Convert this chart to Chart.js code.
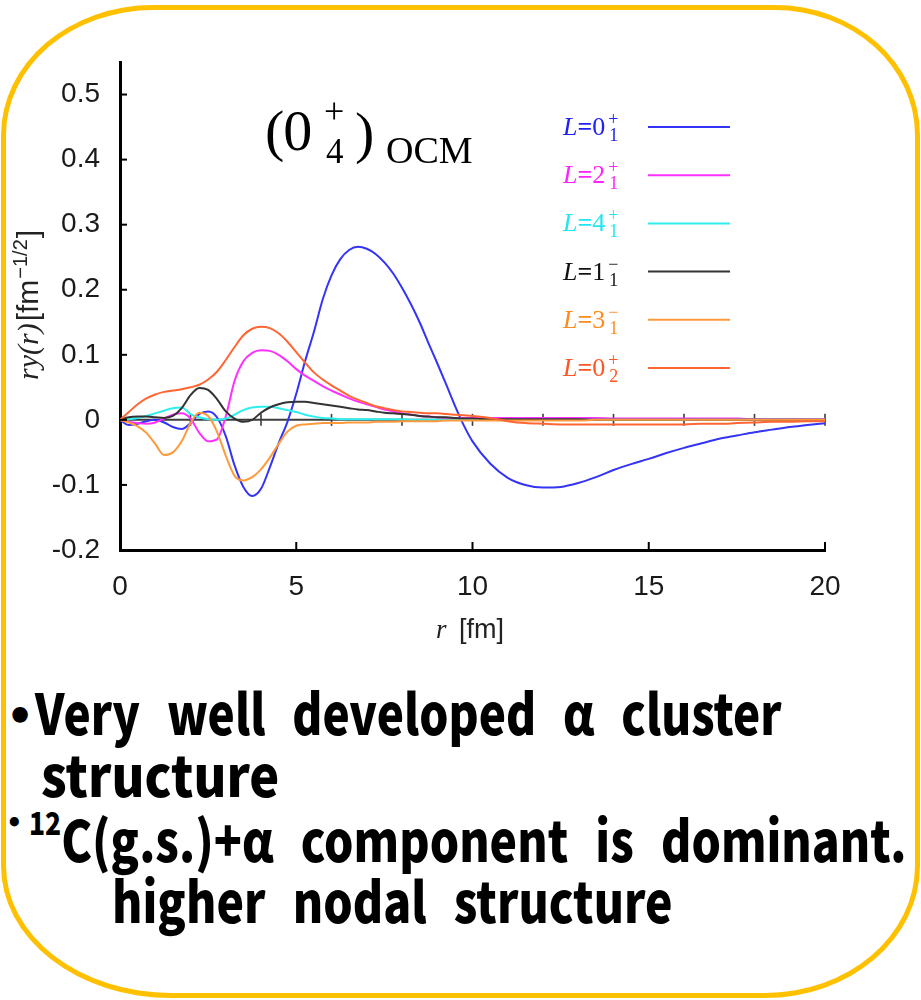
<!DOCTYPE html>
<html lang="en">
<head>
<meta charset="utf-8">
<title>Reduced width amplitudes (0_4^+)_OCM</title>
<script src="https://cdn.jsdelivr.net/npm/chart.js@4.4.1/dist/chart.umd.min.js"></script>
<style>
  html, body { margin: 0; padding: 0; background: #fff; }
  body { position: relative; width: 921px; height: 1000px; overflow: hidden; }
  #frame {
    position: absolute; left: 1px; top: 5px; width: 909px; height: 983px;
    border: 5px solid #ffc000;
    border-radius: 152px 145px 155px 170px / 130px 130px 132px 132px;
  }
  #plot { position: absolute; left: 0; top: 0; }
  .note {
    position: absolute; left: 0; top: 0; white-space: nowrap; color: #000;
    font-family: "Noto Sans CJK JP", "Noto Sans", sans-serif; font-weight: 900;
    font-size: 56px; line-height: 1; word-spacing: 20px; transform-origin: 0 0;
  }
  .note .bl { display: inline-block; width: 0; height: 0; vertical-align: baseline; }
  .note .iso { font-size: 32px; position: relative; top: -27px; word-spacing: 0; }
  .note.dot { font-family: "DejaVu Sans", sans-serif; font-weight: bold; word-spacing: 0; }
</style>
</head>
<body>
<div id="frame"></div>
<canvas id="plot" width="921" height="660"></canvas>

<div class="note dot" style="font-size:44px" data-left="6" data-base="731">•<span class="bl"></span></div>
<div class="note" data-left="35" data-right="782" data-base="735">Very well developed α cluster<span class="bl"></span></div>
<div class="note" data-left="41" data-right="279" data-base="797">structure<span class="bl"></span></div>
<div class="note dot" style="font-size:26px" data-left="6" data-base="832">•<span class="bl"></span></div>
<div class="note" data-left="29" data-right="906" data-base="862"><span class="iso">12</span>C(g.s.)+α component is dominant.<span class="bl"></span></div>
<div class="note" data-left="112" data-right="673" data-base="923">higher nodal structure<span class="bl"></span></div>

<script>
// Radial grid r [fm]: fine step inside the interaction region, coarser outside.
const radius = [0, 0.25, 0.5, 0.75, 1, 1.25, 1.5, 1.75, 2, 2.25, 2.5, 2.75, 3, 3.25, 3.5, 3.75,
  4, 4.25, 4.5, 4.75, 5, 5.25, 5.5, 5.75, 6, 6.25, 6.5, 6.75, 7, 7.25, 7.5, 7.75,
  8, 8.25, 8.5, 8.75, 9, 9.25, 9.5, 9.75, 10,
  10.5, 11, 11.5, 12, 12.5, 13, 13.5, 14, 14.5, 15, 15.5, 16, 16.5, 17, 17.5, 18, 18.5, 19, 19.5, 20];

// r*y(r) [fm^-1/2] for each 12C(L) + alpha channel
const ampL0p1 = [0, -0.008, -0.006, -0.002, 0.000, -0.004, -0.011, -0.014, -0.005, 0.009, 0.013, 0.004, -0.025, -0.07, -0.103, -0.117,
  -0.106, -0.073, -0.036, -0.003, 0.04, 0.09, 0.135, 0.185, 0.222, 0.247, 0.261, 0.266, 0.263, 0.255, 0.242, 0.225,
  0.203, 0.178, 0.15, 0.118, 0.087, 0.055, 0.022, -0.008, -0.033,
  -0.067, -0.089, -0.1, -0.104, -0.103, -0.097, -0.088, -0.077, -0.068, -0.06, -0.051, -0.043, -0.036, -0.029, -0.024, -0.019, -0.015, -0.011, -0.008, -0.005];
const ampL2p1 = [0, -0.003, -0.005, -0.006, -0.004, 0.002, 0.008, 0.01, 0.002, -0.02, -0.033, -0.03, 0.005, 0.06, 0.09, 0.103,
  0.107, 0.106, 0.1, 0.09, 0.078, 0.068, 0.06, 0.052, 0.045, 0.039, 0.033, 0.028, 0.024, 0.02, 0.016, 0.013,
  0.01, 0.008, 0.006, 0.005, 0.004, 0.003, 0.003, 0.003, 0.003,
  0.003, 0.003, 0.003, 0.003, 0.003, 0.003, 0.003, 0.002, 0.002, 0.002, 0.002, 0.002, 0.002, 0.002, 0.002, 0.001, 0.001, 0.001, 0.001, 0.001];
const ampL4p1 = [0, 0.001, 0.003, 0.006, 0.01, 0.014, 0.018, 0.019, 0.009, 0.004, 0.001, 0.0, 0.002, 0.008, 0.015, 0.019,
  0.02, 0.02, 0.018, 0.015, 0.012, 0.008, 0.005, 0.003, 0.002, 0.001, 0.001, 0.001, 0.001, 0.001, 0.001, 0.001,
  0.001, 0, 0, 0, 0, 0, 0, 0, 0,
  0, 0, 0, 0, 0, 0, 0, 0, 0, 0, 0, 0, 0, 0, 0, 0, 0, 0, 0, 0];
const ampL1m1 = [0, 0.004, 0.005, 0.005, 0.004, 0.003, 0.006, 0.018, 0.038, 0.049, 0.046, 0.032, 0.013, 0.002, -0.003, 0.0,
  0.011, 0.019, 0.024, 0.027, 0.028, 0.028, 0.026, 0.024, 0.022, 0.02, 0.018, 0.016, 0.015, 0.013, 0.011, 0.01,
  0.009, 0.008, 0.006, 0.005, 0.004, 0.004, 0.003, 0.002, 0.002,
  0.001, 0.001, 0.001, 0.001, 0.001, 0.001, 0, 0, 0, 0, 0, 0, 0, 0, 0, 0, 0, 0, 0, 0];
const ampL3m1 = [0, -0.004, -0.01, -0.02, -0.037, -0.054, -0.05, -0.033, -0.005, 0.011, 0.006, -0.018, -0.055, -0.086, -0.093, -0.088,
  -0.076, -0.058, -0.037, -0.018, -0.009, -0.007, -0.006, -0.005, -0.005, -0.005, -0.004, -0.004, -0.004, -0.003, -0.003, -0.003,
  -0.002, -0.002, -0.002, -0.002, -0.002, -0.001, -0.001, -0.001, -0.001,
  -0.001, -0.001, -0.001, -0.001, -0.001, -0.001, 0, 0, 0, 0, 0, 0, 0, 0, 0, 0, 0, 0, 0, 0];
const ampL0p2 = [0, 0.012, 0.024, 0.033, 0.039, 0.043, 0.045, 0.047, 0.05, 0.054, 0.062, 0.074, 0.092, 0.112, 0.13, 0.14,
  0.143, 0.141, 0.133, 0.12, 0.104, 0.088, 0.073, 0.062, 0.053, 0.045, 0.037, 0.031, 0.026, 0.021, 0.018, 0.015,
  0.013, 0.012, 0.011, 0.01, 0.01, 0.009, 0.008, 0.007, 0.006,
  0.003, -0.002, -0.005, -0.006, -0.007, -0.007, -0.007, -0.007, -0.007, -0.007, -0.007, -0.007, -0.006, -0.006, -0.005, -0.004, -0.003, -0.003, -0.002, -0.002];

// Channel labels L = spin^parity_index
const channelSpin = ['0', '2', '4', '1', '3', '0'];
const channelParity = ['+', '+', '+', '\u2212', '\u2212', '+'];
const channelIndex = ['1', '1', '1', '1', '1', '2'];
const channelColors = ['#3434f6', '#ff30ff', '#2eeeee', '#333333', '#ff9a3c', '#ff6633'];
const channelTextColors = ['#2020f0', '#ff22ff', '#22e6f0', '#111111', '#ff8a1e', '#ff5522'];

// Axis ranges and tick labels
const xRange = [0, 20];
const yRange = [-0.2, 0.55];
const xTicks = [0, 5, 10, 15, 20];
const yTicks = [-0.2, -0.1, 0, 0.1, 0.2, 0.3, 0.4, 0.5];
const zeroAxisTicks = [2, 4, 6, 8, 10, 12, 14, 16, 18, 20];

const SERIF = '"Liberation Serif", "Times New Roman", serif';
const SANS = '"Liberation Sans", Arial, sans-serif';

const series = [ampL0p1, ampL2p1, ampL4p1, ampL1m1, ampL3m1, ampL0p2];

function put(ctx, font, text, x, y) {
  ctx.font = font;
  ctx.fillText(text, x, y);
  return x + ctx.measureText(text).width;
}

const decorations = {
  id: 'decorations',
  beforeDatasetsDraw(chart) {
    const { ctx, scales: { x, y } } = chart;
    const y0 = y.getPixelForValue(0);
    ctx.save();
    ctx.strokeStyle = '#3c3c3c';
    ctx.lineWidth = 2;
    ctx.beginPath();
    ctx.moveTo(x.getPixelForValue(xRange[0]), y0);
    ctx.lineTo(x.getPixelForValue(xRange[1]), y0);
    ctx.stroke();
    ctx.lineWidth = 1.6;
    zeroAxisTicks.forEach(v => {
      const px = x.getPixelForValue(v);
      ctx.beginPath();
      ctx.moveTo(px, y0 - 6);
      ctx.lineTo(px, y0 + 6);
      ctx.stroke();
    });
    ctx.restore();
  },
  afterDraw(chart) {
    const { ctx, chartArea: a, scales: { x, y } } = chart;
    ctx.save();

    // inward tick marks
    ctx.strokeStyle = '#000';
    ctx.lineWidth = 2;
    y.ticks.forEach(t => {
      if (t.value === yRange[0]) return;
      const py = y.getPixelForValue(t.value);
      ctx.beginPath(); ctx.moveTo(a.left, py); ctx.lineTo(a.left + 7, py); ctx.stroke();
    });
    x.ticks.forEach(t => {
      if (t.value === xRange[0]) return;
      const px = x.getPixelForValue(t.value);
      ctx.beginPath(); ctx.moveTo(px, a.bottom); ctx.lineTo(px, a.bottom - 8); ctx.stroke();
    });

    // key: label on the left, line sample on the right
    ctx.textBaseline = 'alphabetic';
    ctx.textAlign = 'left';
    chart.data.datasets.forEach((ds, i) => {
      const rowY = a.top + 65 + i * 48.2;
      const base = rowY + 8;
      ctx.fillStyle = channelTextColors[i];
      let px = put(ctx, `italic 26px ${SERIF}`, 'L', a.left + 443, base);
      px = put(ctx, `bold 26px ${SERIF}`, '=', px, base);
      px = put(ctx, `26px ${SERIF}`, channelSpin[i], px, base);
      ctx.font = `18px ${SERIF}`;
      ctx.fillText(channelParity[i], px + 3, base - 10);
      ctx.fillText(channelIndex[i], px + 4, base + 6);
      ctx.strokeStyle = ds.borderColor;
      ctx.lineWidth = 2;
      ctx.beginPath();
      ctx.moveTo(a.left + 528, rowY);
      ctx.lineTo(a.left + 610, rowY);
      ctx.stroke();
    });

    // state label
    ctx.fillStyle = '#000';
    let tx = put(ctx, `58px ${SERIF}`, '(', a.left + 145, a.top + 88);
    put(ctx, `58px ${SERIF}`, '0', tx - 1, a.top + 88);
    put(ctx, `36px ${SERIF}`, '+', a.left + 204, a.top + 61);
    put(ctx, `35px ${SERIF}`, '4', a.left + 206, a.top + 101);
    put(ctx, `58px ${SERIF}`, ')', a.left + 235, a.top + 90);
    put(ctx, `38px ${SERIF}`, 'OCM', a.left + 266, a.top + 101);

    // axis titles
    ctx.fillStyle = '#222';
    put(ctx, `italic 27px ${SERIF}`, 'r', a.left + 316, a.bottom + 88);
    put(ctx, `27px ${SANS}`, '[fm]', a.left + 339, a.bottom + 88);

    ctx.translate(a.left - 82, a.top + 318);
    ctx.rotate(-Math.PI / 2);
    let ty = put(ctx, `italic 30px ${SERIF}`, 'ry(r)', 0, 0);
    ty = put(ctx, `30px ${SANS}`, '[fm', ty + 2, 0);
    ty = put(ctx, `20px ${SANS}`, '\u22121/2', ty + 1, -11);
    put(ctx, `30px ${SANS}`, ']', ty + 1, 0);

    ctx.restore();
  }
};

new Chart(document.getElementById('plot'), {
  type: 'line',
  data: {
    datasets: series.map((vals, i) => ({
      label: `L=${channelSpin[i]}${channelParity[i]}${channelIndex[i]}`,
      data: radius.map((r, k) => ({ x: r, y: vals[k] })),
      borderColor: channelColors[i],
      borderWidth: 2,
      pointRadius: 0,
      fill: false,
      cubicInterpolationMode: 'monotone',
      order: series.length - 1 - i
    }))
  },
  options: {
    responsive: false,
    animation: false,
    events: [],
    layout: { padding: { left: 0, top: 62, right: 96, bottom: 0 } },
    plugins: { legend: { display: false }, tooltip: { enabled: false } },
    scales: {
      x: {
        type: 'linear', min: xRange[0], max: xRange[1],
        afterBuildTicks: s => { s.ticks = xTicks.map(v => ({ value: v })); },
        afterFit: s => { s.height = 110; },
        grid: { display: false, drawTicks: false },
        border: { display: true, color: '#000', width: 3 },
        ticks: { padding: 20, color: '#1a1a1a', font: { family: SANS, size: 28 }, maxRotation: 0, autoSkip: false,
                 callback: v => String(v) }
      },
      y: {
        type: 'linear', min: yRange[0], max: yRange[1],
        afterBuildTicks: s => { s.ticks = yTicks.map(v => ({ value: v })); },
        afterFit: s => { s.width = 120; },
        grid: { display: false, drawTicks: false },
        border: { display: true, color: '#000', width: 3 },
        ticks: { padding: 20, color: '#1a1a1a', font: { family: SANS, size: 28 }, autoSkip: false,
                 callback: v => (v === 0 ? '0' : v.toFixed(1)) }
      }
    }
  },
  plugins: [decorations]
});

// Place the notes on their baselines and fit each line to its width.
function placeNotes() {
  document.querySelectorAll('.note').forEach(el => {
    el.style.transform = 'none';
    const left = +el.dataset.left;
    const base = +el.dataset.base;
    const mark = el.querySelector('.bl');
    el.style.left = left + 'px';
    el.style.top = (base - mark.offsetTop) + 'px';
    if (el.dataset.right) {
      const s = (+el.dataset.right - left) / el.offsetWidth;
      el.style.transform = `scaleX(${s})`;
    }
  });
}
placeNotes();
if (document.fonts && document.fonts.ready) document.fonts.ready.then(placeNotes);
</script>
</body>
</html>
